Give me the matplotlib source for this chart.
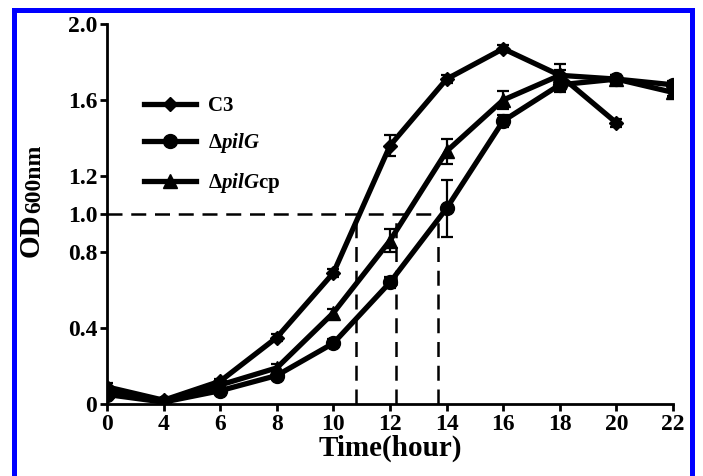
import numpy as np
import matplotlib
matplotlib.use("Agg")
import matplotlib.pyplot as plt
from matplotlib.patches import Rectangle

plt.rcParams['font.family'] = 'Liberation Serif'
plt.rcParams['font.weight'] = 'bold'
plt.rcParams['mathtext.fontset'] = 'custom'
plt.rcParams['mathtext.rm'] = 'Liberation Serif:bold'
plt.rcParams['mathtext.bf'] = 'Liberation Serif:bold'
plt.rcParams['mathtext.bfit'] = 'Liberation Serif:italic:bold'
plt.rcParams['mathtext.it'] = 'Liberation Serif:italic:bold'

# sampling times (hours); the axis puts them at equal spacing
times = [0, 4, 6, 8, 10, 12, 14, 16, 18, 20, 22]
time_labels = ["0", "4", "6", "8", "10", "12", "14", "16", "18", "20", "22"]

# OD600 readings
c3 = [0.09, 0.02, 0.12, 0.35, 0.69, 1.36, 1.71, 1.87, 1.73, 1.48]
c3_err = [0.02, 0.01, 0.01, 0.02, 0.02, 0.055, 0.02, 0.02, 0.03, 0.02]
pilg = [0.05, 0.01, 0.07, 0.15, 0.32, 0.64, 1.03, 1.49, 1.68, 1.71, 1.68]
pilg_err = [0.01, 0.01, 0.01, 0.02, 0.02, 0.03, 0.15, 0.03, 0.04, 0.02, 0.02]
pilgcp = [0.07, 0.01, 0.10, 0.19, 0.48, 0.86, 1.33, 1.60, 1.73, 1.71, 1.64]
pilgcp_err = [0.01, 0.01, 0.01, 0.02, 0.02, 0.06, 0.065, 0.045, 0.06, 0.02, 0.02]

# times at which OD reaches 1.0
od_level = 1.0
cross_times = [10.8, 12.2, 13.7]

yticks = [0, 0.4, 0.8, 1.0, 1.2, 1.6, 2.0]
ytick_labels = ["0", "0.4", "0.8", "1.0", "1.2", "1.6", "2.0"]

idx = np.arange(len(times))


def to_pos(h):
    return np.interp(h, times, idx)


fig = plt.figure(figsize=(7.03, 4.76), dpi=100)
ax = fig.add_axes([107 / 703, 1 - 404 / 476, 566 / 703, 380 / 476])

lw = 3.8
err_kw = dict(fmt='none', elinewidth=1.6, capsize=4, capthick=1.6, ecolor='black')
series = [
    (c3, c3_err, 'D', 7, 'C3'),
    (pilg, pilg_err, 'o', 10, r'$\Delta\mathbfit{pilG}$'),
    (pilgcp, pilgcp_err, '^', 10, r'$\Delta\mathbfit{pilG}\mathbf{cp}$'),
]
for vals, errs, mk, ms, lab in series:
    x = idx[:len(vals)]
    ax.errorbar(x, vals, yerr=errs, **err_kw)
    ax.plot(x, vals, color='black', lw=lw, marker=mk, ms=ms, label=lab)

# dashed guide lines
xs = to_pos(cross_times)
dash = (0, (6, 3.5))
ax.plot([0, xs[-1]], [od_level, od_level], color='black', lw=1.8, ls=dash)
for x in xs:
    ax.plot([x, x], [0, od_level], color='black', lw=1.8, ls=dash)

ax.set_xlim(0, len(times) - 1)
ax.set_ylim(0, 2.0)
ax.set_xticks(idx)
ax.set_xticklabels(time_labels)
ax.set_yticks(yticks)
ax.set_yticklabels(ytick_labels)
for s in ['top', 'right']:
    ax.spines[s].set_visible(False)
for s in ['left', 'bottom']:
    ax.spines[s].set_linewidth(2)
ax.tick_params(width=2, length=5, labelsize=17, pad=2)
for lab in ax.get_xticklabels() + ax.get_yticklabels():
    lab.set_fontweight('bold')

ax.set_xlabel('Time(hour)', fontsize=21, fontweight='bold', labelpad=0)
fig.text(45 / 703, 1 - 257 / 476, 'OD', rotation=90, ha='right', va='bottom',
         fontsize=21, fontweight='bold')
fig.text(45 / 703, 1 - 213 / 476, '600nm', rotation=90, ha='right', va='bottom',
         fontsize=17, fontweight='bold')

leg = ax.legend(loc='upper left', bbox_to_anchor=(0.05, 0.833), frameon=False,
                fontsize=15, handlelength=2.5, labelspacing=0.75,
                handletextpad=0.6, borderaxespad=0)

# blue frame around the figure
fig.patches.append(Rectangle((14 / 703, -0.05), (692 - 14) / 703, 1.05 - 10 / 476,
                             transform=fig.transFigure, fill=False,
                             edgecolor='#0000ff', lw=3.6, clip_on=False))

fig.savefig('out.png', dpi=100)
